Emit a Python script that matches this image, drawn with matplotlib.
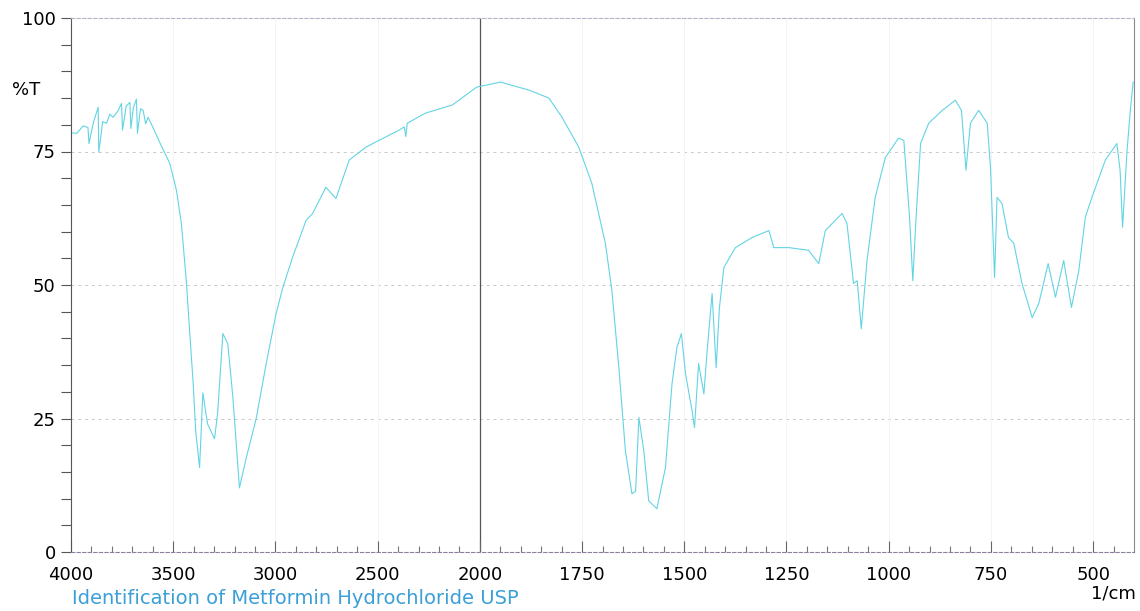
import numpy as np
import matplotlib.pyplot as plt
from matplotlib.ticker import FixedLocator

plt.rcParams['font.family'] = ['DejaVu Sans']

# wavenumber (1/cm) and transmittance (%T)
wavenumber = [
    4000, 3972, 3940, 3917, 3912, 3890, 3867, 3864, 3845, 3826, 3810, 3795,
    3770, 3753, 3748, 3730, 3712, 3707, 3695, 3680, 3675, 3660, 3647, 3635,
    3623, 3599, 3566, 3517, 3484, 3460, 3436, 3420, 3403, 3390, 3371, 3355,
    3332, 3298, 3283, 3257, 3233, 3208, 3176, 3143, 3094, 3045, 2997, 2964,
    2916, 2850, 2818, 2753, 2704, 2639, 2558, 2493, 2395, 2370, 2362, 2355,
    2265, 2135, 2021, 2011, 1949, 1922, 1880, 1831, 1799, 1758, 1726, 1693,
    1677, 1660, 1644, 1628, 1619, 1611, 1599, 1587, 1567, 1546, 1530, 1518,
    1507, 1497, 1481, 1475, 1465, 1452, 1444, 1432, 1422, 1414, 1403, 1375,
    1334, 1293, 1281, 1244, 1196, 1171, 1155, 1114, 1102, 1086, 1077, 1067,
    1053, 1033, 1008, 976, 963, 949, 941, 933, 922, 902, 869, 837,
    822, 811, 800, 780, 759, 751, 741, 735, 723, 707, 694, 674,
    649, 633, 610, 592, 572, 553, 535, 519, 503, 470, 442, 434,
    428, 417, 409, 402,
]
transmittance = [
    78.5, 78.4, 79.8, 79.5, 76.5, 80.5, 83.3, 74.9, 80.6, 80.3, 82.0, 81.4,
    82.6, 84.0, 79.0, 83.5, 84.2, 79.3, 83.2, 84.8, 78.4, 83.0, 82.7, 80.2,
    81.4, 79.5, 76.7, 72.8, 67.7, 61.5, 50.8, 41.5, 32.0, 22.7, 15.8, 29.8,
    24.0, 21.2, 25.9, 40.9, 39.0, 28.9, 12.0, 17.6, 25.0, 35.3, 44.6, 49.5,
    55.2, 62.1, 63.4, 68.3, 66.2, 73.4, 75.8, 77.1, 79.0, 79.6, 77.8, 80.3,
    82.2, 83.7, 86.9, 87.1, 88.0, 87.4, 86.5, 85.0, 81.4, 75.8, 69.0, 57.8,
    49.0, 34.5, 19.0, 10.9, 11.4, 25.2, 19.0, 9.6, 8.1, 15.8, 31.5, 38.3,
    40.9, 33.4, 26.5, 23.3, 35.3, 29.6, 37.7, 48.4, 34.5, 45.8, 53.3, 57.0,
    58.9, 60.2, 57.0, 57.0, 56.5, 54.0, 60.2, 63.4, 61.5, 50.3, 50.8, 41.8,
    54.6, 66.4, 73.9, 77.5, 77.1, 62.7, 50.8, 62.7, 76.5, 80.3, 82.7, 84.6,
    82.7, 71.5, 80.3, 82.7, 80.3, 72.0, 51.4, 66.4, 65.3, 58.9, 57.8, 50.3,
    43.9, 46.5, 54.0, 47.7, 54.6, 45.8, 52.7, 62.7, 66.4, 73.4, 76.5, 71.5,
    60.8, 75.2, 82.7, 88.0,
]

y_major = [0, 25, 50, 75, 100]
x_major = [4000, 3500, 3000, 2500, 2000, 1750, 1500, 1250, 1000, 750, 500]
x_minor = list(range(4000, 2000, -100)) + list(range(2000, 400, -50))


# spectrometer axis: below 2000 1/cm the scale is stretched twice
def forward(w):
    w = np.asarray(w, dtype=float)
    return np.where(w >= 2000, w, 2000 - 2 * (2000 - w))


def inverse(u):
    u = np.asarray(u, dtype=float)
    return np.where(u >= 2000, u, 2000 - (2000 - u) / 2)


fig = plt.figure(figsize=(11.4, 6.11), dpi=100)
ax = fig.add_axes([71 / 1140, 1 - 552 / 611, (1134 - 71) / 1140, (552 - 18) / 611])
ax.set_xscale('function', functions=(forward, inverse))
ax.set_xlim(4000, 400)
ax.set_ylim(0, 100)

for yv in [25, 50, 75]:
    ax.axhline(yv, color='#c8c8c8', lw=0.7, ls=(0, (3, 4)), zorder=0)
for xv in x_major[1:]:
    ax.axvline(xv, color='#f4f4f4', lw=0.7, zorder=0)
ax.axvline(2000, color='#555555', lw=0.9, zorder=1)

ax.plot(wavenumber, transmittance, color='#62d4e4', lw=0.8, zorder=2)

ax.spines['left'].set_color('#555555')
ax.spines['right'].set_color('#8a8a8a')
ax.spines['right'].set_linewidth(0.8)
ax.spines['top'].set_color('#b9b2c8')
ax.spines['top'].set_linestyle((0, (3, 2)))
ax.spines['bottom'].set_color('#8c7f9c')
ax.spines['bottom'].set_linestyle((0, (3, 2)))

ax.yaxis.set_major_locator(FixedLocator(y_major))
ax.yaxis.set_minor_locator(FixedLocator(list(range(0, 101, 5))))
ax.xaxis.set_major_locator(FixedLocator(x_major))
ax.xaxis.set_minor_locator(FixedLocator(x_minor))
ax.set_xticklabels([str(v) for v in x_major])
ax.set_yticklabels([str(v) for v in y_major])

ax.tick_params(axis='y', which='both', direction='out', length=7, width=0.8,
               color='#555555', labelsize=13, pad=4)
ax.tick_params(axis='x', which='major', direction='in', length=8, width=0.8,
               color='#666666', labelsize=13, pad=10)
ax.tick_params(axis='x', which='minor', direction='in', length=4, width=0.8,
               color='#777777')

fig.text(12 / 1140, 1 - 90 / 611, '%T', fontsize=13, va='center', ha='left')
fig.text(1136 / 1140, 1 - 593 / 611, '1/cm', fontsize=13, va='center', ha='right')
fig.text(72 / 1140, 1 - 599 / 611, 'Identification of Metformin Hydrochloride USP',
         fontsize=14, color='#3b9fd8', va='center', ha='left')

fig.savefig('out.png', dpi=100)
